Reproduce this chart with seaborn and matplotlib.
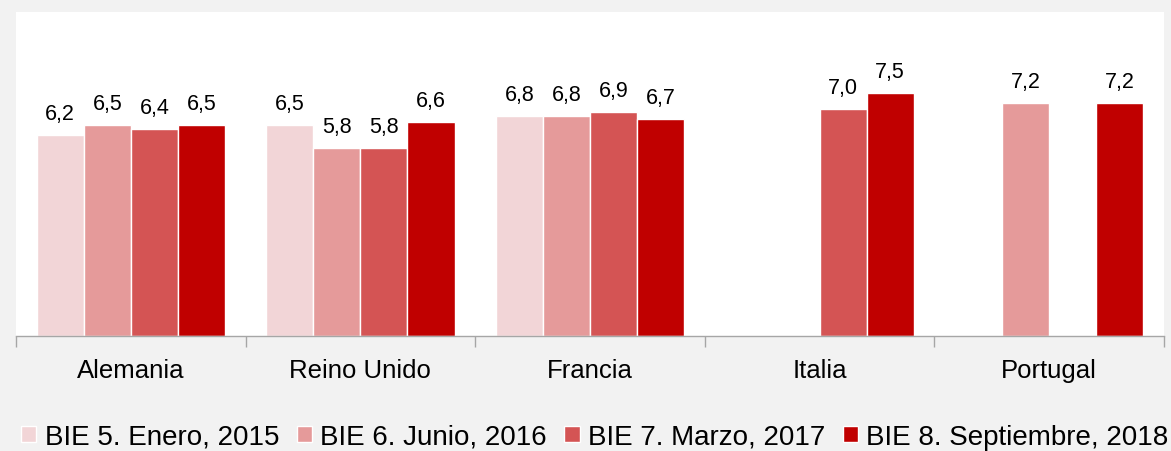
import numpy as np
import pandas as pd
import matplotlib
matplotlib.use("Agg")
import matplotlib.pyplot as plt
import seaborn as sns

categories = ["Alemania", "Reino Unido", "Francia", "Italia", "Portugal"]
series_names = ["BIE 5. Enero, 2015", "BIE 6. Junio, 2016", "BIE 7. Marzo, 2017", "BIE 8. Septiembre, 2018"]
bie5 = [6.2, 6.5, 6.8, np.nan, np.nan]
bie6 = [6.5, 5.8, 6.8, np.nan, 7.2]
bie7 = [6.4, 5.8, 6.9, 7.0, np.nan]
bie8 = [6.5, 6.6, 6.7, 7.5, 7.2]
colors = ["#f2d5d7", "#e59a9a", "#d45454", "#c00000"]

rows = []
for name, vals in zip(series_names, [bie5, bie6, bie7, bie8]):
    for c, v in zip(categories, vals):
        rows.append({"pais": c, "serie": name, "valor": v})
df = pd.DataFrame(rows)

sns.set_theme(style="white")
plt.rcParams["font.family"] = ["Liberation Sans", "DejaVu Sans"]
plt.rcParams["text.color"] = "black"
plt.rcParams["xtick.color"] = "black"

fig = plt.figure(figsize=(11.71, 4.52), dpi=100, facecolor="#f2f2f2")
ax = fig.add_axes([16/1171, 1-337/452, (1164-16)/1171, (337-13)/452])
ax.set_facecolor("white")

sns.barplot(data=df, x="pais", y="valor", hue="serie", order=categories,
            hue_order=series_names, palette=colors, saturation=1, width=0.82, dodge=True,
            edgecolor="white", linewidth=1, ax=ax, legend=True)

for cont in ax.containers:
    labels = []
    for b in cont:
        h = b.get_height()
        labels.append("" if (h is None or np.isnan(h)) else f"{h:.1f}".replace(".", ","))
    ax.bar_label(cont, labels=labels, padding=8, fontsize=15.5, color="black")

ax.set_ylim(0, 10)
ax.set_xlim(-0.5, 4.5)
ax.set_yticks([])
ax.set_xlabel("")
ax.set_ylabel("")
for s in ["top", "left", "right"]:
    ax.spines[s].set_visible(False)
ax.spines["bottom"].set_color("#a6a6a6")
ax.spines["bottom"].set_linewidth(1)
ax.set_xticks(np.arange(-0.5, 5, 1), minor=True)
ax.tick_params(axis="x", which="minor", length=8, width=1, color="#a6a6a6", direction="out", bottom=True)
ax.tick_params(axis="x", which="major", length=0, labelsize=18.5, pad=16, labelcolor="black")

handles, labs = ax.get_legend_handles_labels()
ax.get_legend().remove()
fig.legend(handles, labs, loc="lower center", bbox_to_anchor=(0.508, -0.022), ncol=4,
           frameon=False, fontsize=20, handlelength=0.55, handleheight=0.55,
           handletextpad=0.3, columnspacing=0.63, borderaxespad=0, labelcolor="black")

fig.savefig("out.png", dpi=100, facecolor=fig.get_facecolor())
